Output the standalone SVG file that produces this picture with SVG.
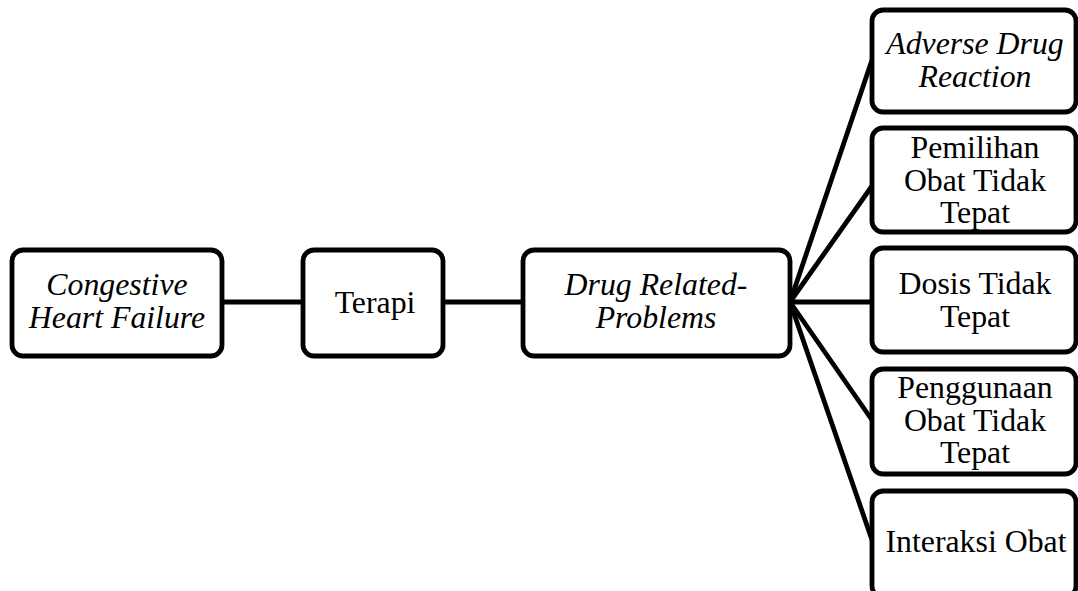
<svg xmlns="http://www.w3.org/2000/svg" width="1078" height="591" viewBox="0 0 1078 591">
<style>
.box{fill:#fff;stroke:#000;stroke-width:4.8}
.t{font-family:'Liberation Serif','Times New Roman',serif;font-size:31.8px;fill:#000;text-anchor:middle}
.i{font-style:italic}
.c{stroke:#000;stroke-width:4.8;fill:none;stroke-linecap:round}
</style>
<rect width="1078" height="591" fill="#fff"/>
<g id="connectors">
<line class="c" x1="222" y1="302" x2="303" y2="302"/>
<line class="c" x1="443" y1="302" x2="523" y2="302"/>
<line class="c" x1="790" y1="302" x2="872" y2="60"/>
<line class="c" x1="790" y1="302" x2="872" y2="186"/>
<line class="c" x1="790" y1="302" x2="872" y2="302"/>
<line class="c" x1="790" y1="302" x2="872" y2="420"/>
<line class="c" x1="790" y1="302" x2="872" y2="540"/>
</g>
<g id="chf">
<rect class="box" x="12" y="250" width="210" height="106" rx="11"/>
<text class="t i" x="117" y="295">Congestive</text>
<text class="t i" x="117" y="328">Heart Failure</text>
</g>
<g id="terapi">
<rect class="box" x="303" y="250" width="140" height="106" rx="11"/>
<text class="t" x="375" y="313">Terapi</text>
</g>
<g id="drp">
<rect class="box" x="523" y="250" width="267" height="106" rx="11"/>
<text class="t i" x="656" y="295">Drug Related-</text>
<text class="t i" x="656" y="328">Problems</text>
</g>
<g id="adr">
<rect class="box" x="872" y="10" width="204" height="102" rx="11"/>
<text class="t i" x="975" y="54">Adverse Drug</text>
<text class="t i" x="975" y="87">Reaction</text>
</g>
<g id="pemilihan">
<rect class="box" x="872" y="128" width="204" height="104" rx="11"/>
<text class="t" x="975" y="158">Pemilihan</text>
<text class="t" x="975" y="191">Obat Tidak</text>
<text class="t" x="975" y="223">Tepat</text>
</g>
<g id="dosis">
<rect class="box" x="872" y="248" width="204" height="104" rx="11"/>
<text class="t" x="975" y="294">Dosis Tidak</text>
<text class="t" x="975" y="327">Tepat</text>
</g>
<g id="penggunaan">
<rect class="box" x="872" y="369" width="204" height="105" rx="11"/>
<text class="t" x="975" y="398">Penggunaan</text>
<text class="t" x="975" y="431">Obat Tidak</text>
<text class="t" x="975" y="463">Tepat</text>
</g>
<g id="interaksi">
<rect class="box" x="872" y="491" width="204" height="106" rx="11"/>
<text class="t" x="976" y="552">Interaksi Obat</text>
</g>
</svg>
